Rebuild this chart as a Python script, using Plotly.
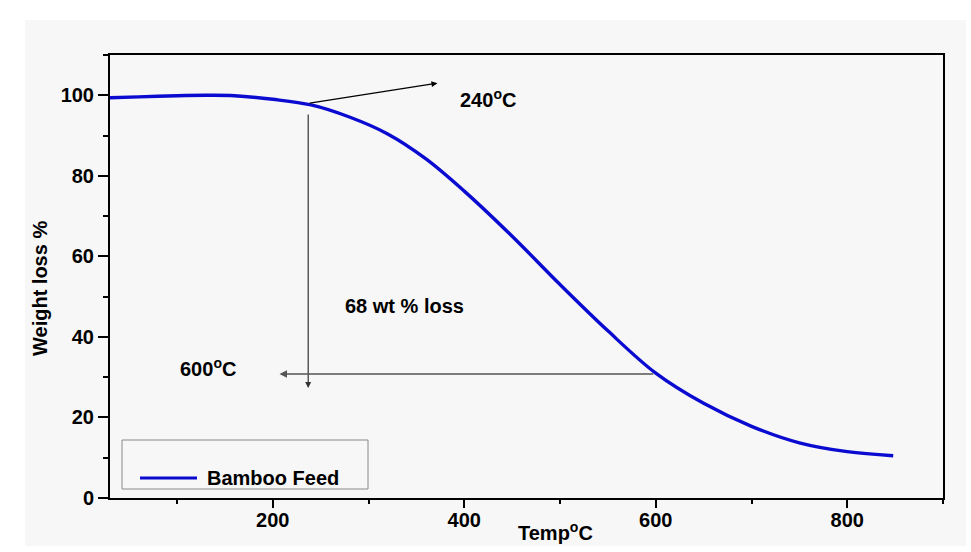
import plotly.graph_objects as go

# Data
temp_c = [30, 60, 100, 130, 160, 200, 240, 280, 320, 360, 400, 450, 500, 550, 600, 650, 700, 750, 800, 848]
weight_pct = [99.4, 99.6, 99.9, 100.0, 99.9, 99.0, 97.6, 94.6, 90.4, 84.2, 76.2, 65.0, 53.0, 41.5, 31.0, 23.5, 17.8, 13.7, 11.5, 10.5]
series_name = "Bamboo Feed"

x_ticks = [200, 400, 600, 800]
y_ticks = [0, 20, 40, 60, 80, 100]

FONT = "Liberation Sans, Arial, sans-serif"
LINE_COLOR = "#0a0ad0"

fig = go.Figure()
fig.add_trace(go.Scatter(
    x=temp_c, y=weight_pct, mode="lines", name=series_name, showlegend=False,
    line=dict(color=LINE_COLOR, width=3.4, shape="spline", smoothing=1.0),
))

tick_font = dict(family=FONT, size=20, color="black", weight="bold")
axis_common = dict(
    showline=True, linecolor="black", linewidth=2, mirror=True,
    ticks="outside", tickwidth=2, tickcolor="black",
    showgrid=False, zeroline=False, tickfont=tick_font,
)
fig.update_xaxes(range=[30, 900], tickvals=x_ticks, ticklen=8, ticklabelstandoff=-5,
                 minor=dict(dtick=100, tick0=0, ticklen=4, tickwidth=2, tickcolor="black", ticks="outside"),
                 **axis_common)
fig.update_yaxes(range=[0, 110], tickvals=y_ticks, ticklen=10,
                 minor=dict(dtick=10, tick0=0, ticklen=5, tickwidth=2, tickcolor="black", ticks="outside"),
                 **axis_common)

ann_font = dict(family=FONT, size=20, color="black", weight="bold")
annotations = [
    # arrows (head at x,y ; tail at ax,ay)
    dict(x=372, y=103, ax=237, ay=98, xref="x", yref="y", axref="x", ayref="y",
         showarrow=True, arrowhead=2, arrowsize=1, arrowwidth=1.2, arrowcolor="black", text=""),
    dict(x=237, y=27.3, ax=237, ay=95.6, xref="x", yref="y", axref="x", ayref="y",
         showarrow=True, arrowhead=2, arrowsize=1, arrowwidth=1.2, arrowcolor="#333333", text=""),
    dict(x=207, y=30.8, ax=599, ay=30.8, xref="x", yref="y", axref="x", ayref="y",
         showarrow=True, arrowhead=2, arrowsize=1, arrowwidth=1.5, arrowcolor="#555555", text=""),
    # labels
    dict(x=425, y=99.3, xref="x", yref="y", text="240<sup>o</sup>C", showarrow=False,
         xanchor="center", yanchor="middle", font=ann_font),
    dict(x=132, y=32.3, xref="x", yref="y", text="600<sup>o</sup>C", showarrow=False,
         xanchor="center", yanchor="middle", font=ann_font),
    dict(x=338, y=47.7, xref="x", yref="y", text="68 wt % loss", showarrow=False,
         xanchor="center", yanchor="middle", font=ann_font),
    # axis titles
    dict(x=(40 - 110) / 833, y=(498 - 289) / 443, xref="paper", yref="paper", text="Weight loss %",
         textangle=-90, showarrow=False, xanchor="center", yanchor="middle", font=ann_font),
    dict(x=(555 - 110) / 833, y=(498 - 531) / 443, xref="paper", yref="paper", text="Temp<sup>o</sup>C",
         showarrow=False, xanchor="center", yanchor="middle", font=ann_font),
    # legend text
    dict(x=(205 - 110) / 833, y=(498 - 478) / 443, xref="paper", yref="paper", text=series_name,
         showarrow=False, xanchor="left", yanchor="middle", font=ann_font),
]

shapes = [
    # light textured background of the picture
    dict(type="rect", xref="paper", yref="paper", layer="below",
         x0=(25 - 110) / 833, x1=(966 - 110) / 833, y0=(498 - 546) / 443, y1=(498 - 20) / 443,
         fillcolor="#f7f7f7", line=dict(width=0)),
    # legend box
    dict(type="rect", xref="paper", yref="paper",
         x0=(122 - 110) / 833, x1=(368 - 110) / 833, y0=(498 - 489) / 443, y1=(498 - 440) / 443,
         line=dict(color="#888888", width=1), fillcolor="rgba(0,0,0,0)"),
    # legend sample line
    dict(type="line", xref="paper", yref="paper",
         x0=(140 - 110) / 833, x1=(197 - 110) / 833, y0=(498 - 478) / 443, y1=(498 - 478) / 443,
         line=dict(color=LINE_COLOR, width=3)),
]

fig.update_layout(
    width=971, height=552,
    margin=dict(l=110, r=28, t=55, b=54),
    paper_bgcolor="white", plot_bgcolor="rgba(0,0,0,0)",
    showlegend=False,
    annotations=annotations, shapes=shapes,
)

fig.write_html("out.html")
